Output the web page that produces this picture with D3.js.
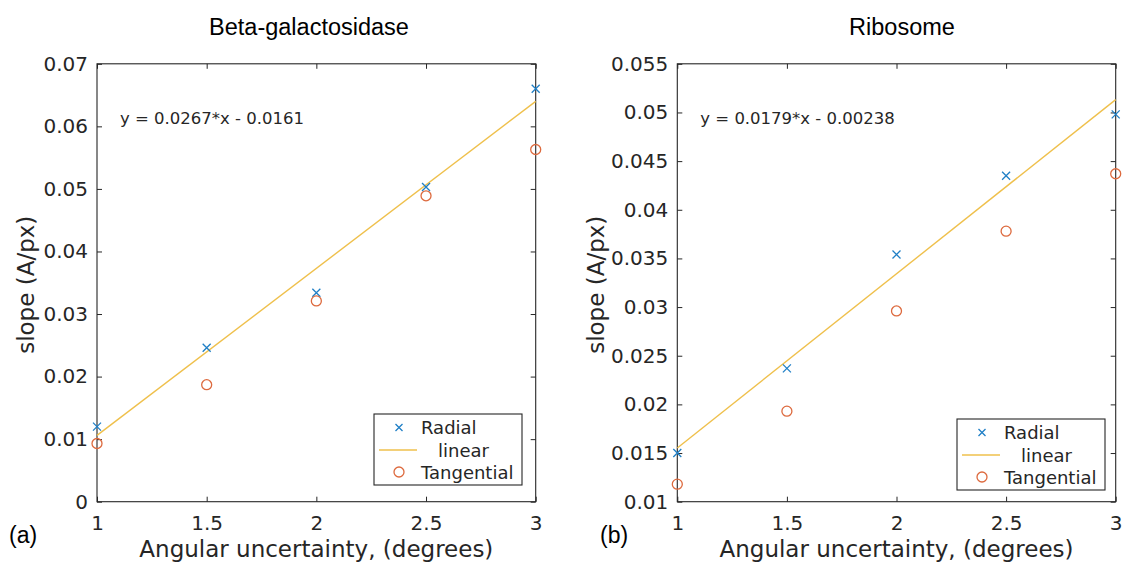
<!DOCTYPE html>
<html>
<head>
<meta charset="UTF-8">
<title>slope vs angular uncertainty</title>
<script src="https://d3js.org/d3.v7.min.js"></script>
<style>
    body { margin: 0; background: #fff; }
    svg { display: block; }
</style>
</head>
<body>
<svg id="chart"></svg>
<script>
    // values
    var xs = [1, 1.5, 2, 2.5, 3];
    var betaRadial = [0.0120, 0.0246, 0.0334, 0.0503, 0.0660];
    var betaTangential = [0.0093, 0.0187, 0.0321, 0.0489, 0.0563];
    var riboRadial = [0.0150, 0.0237, 0.0354, 0.0435, 0.0498];
    var riboTangential = [0.0118, 0.0193, 0.0296, 0.0378, 0.0437];
    var betaFit = [0.0267, -0.0161];
    var riboFit = [0.0179, -0.00238];

    var xTicks = [1, 1.5, 2, 2.5, 3];
    var betaYTicks = [0, 0.01, 0.02, 0.03, 0.04, 0.05, 0.06, 0.07];
    var riboYTicks = [0.01, 0.015, 0.02, 0.025, 0.03, 0.035, 0.04, 0.045, 0.05, 0.055];

    var titles = ["Beta-galactosidase", "Ribosome"];
    var panelTags = ["(a)", "(b)"];
    var seriesNames = ["Radial", "linear", "Tangential"];

    var W = 1123, H = 565;
    var colRadial = "#1f7fc6", colTang = "#dd6a3e", colFit = "#efc04c", ink = "#262626";

    var svg = d3.select("#chart").attr("width", W).attr("height", H);

    var panels = [
        {left: 97, right: 535.7, radial: betaRadial, tang: betaTangential, fit: betaFit,
            yDomain: [0, 0.07], yTicks: betaYTicks, title: titles[0], titleX: 309, tag: panelTags[0], tagX: 9,
            ylabX: 34, legX: 374, legY: 414, legTextDx: 47},
        {left: 677.3, right: 1115.7, radial: riboRadial, tang: riboTangential, fit: riboFit,
            yDomain: [0.01, 0.055], yTicks: riboYTicks, title: titles[1], titleX: 902, tag: panelTags[1], tagX: 600,
            ylabX: 604, legX: 957, legY: 419, legTextDx: 47}
    ];
    var plotTop = 63.8, plotBottom = 501.7;

    function fmt(v) {
        return String(+v.toFixed(4));
    }

    function cross(g, cx, cy, s) {
        g.append("path")
            .attr("d", "M" + (cx - s) + "," + (cy - s) + "L" + (cx + s) + "," + (cy + s) +
                "M" + (cx - s) + "," + (cy + s) + "L" + (cx + s) + "," + (cy - s))
            .attr("stroke", colRadial).attr("stroke-width", 1.3).attr("fill", "none");
    }

    function circle(g, cx, cy) {
        g.append("circle").attr("cx", cx).attr("cy", cy).attr("r", 5)
            .attr("fill", "none").attr("stroke", colTang).attr("stroke-width", 1.3);
    }

    panels.forEach(function (p) {
        var x = d3.scaleLinear().domain([1, 3]).range([p.left, p.right]);
        var y = d3.scaleLinear().domain(p.yDomain).range([plotBottom, plotTop]);
        var g = svg.append("g");

        // axes with inward ticks on all four sides
        var ax = [
            {a: d3.axisBottom(x).tickValues(xTicks).tickFormat(fmt).tickPadding(14.5), t: "translate(0," + plotBottom + ")"},
            {a: d3.axisTop(x).tickValues(xTicks).tickFormat(""), t: "translate(0," + plotTop + ")"},
            {a: d3.axisLeft(y).tickValues(p.yTicks).tickFormat(fmt).tickPadding(9), t: "translate(" + p.left + ",0)"},
            {a: d3.axisRight(y).tickValues(p.yTicks).tickFormat(""), t: "translate(" + p.right + ",0)"}
        ];
        ax.forEach(function (d) {
            var ag = g.append("g").attr("transform", d.t)
                .call(d.a.tickSize(-5).tickSizeOuter(0));
            ag.select(".domain").remove();
            ag.selectAll("line").attr("stroke", ink);
            ag.selectAll("text").attr("fill", ink)
                .style("font-family", "DejaVu Sans").style("font-size", "20px");
        });

        g.append("rect")
            .attr("x", p.left).attr("y", plotTop)
            .attr("width", p.right - p.left).attr("height", plotBottom - plotTop)
            .attr("fill", "none").attr("stroke", ink).attr("stroke-width", 1.1);

        // fitted line over the data range
        var fitLine = d3.line()
            .x(function (d) { return x(d); })
            .y(function (d) { return y(p.fit[0] * d + p.fit[1]); });
        g.append("path").datum([xs[0], xs[xs.length - 1]])
            .attr("d", fitLine).attr("fill", "none")
            .attr("stroke", colFit).attr("stroke-width", 1.4);

        xs.forEach(function (xv, i) {
            cross(g, x(xv), y(p.radial[i]), 4);
            circle(g, x(xv), y(p.tang[i]));
        });

        // fit equation
        var eq = "y = " + p.fit[0] + "*x - " + Math.abs(p.fit[1]);
        g.append("text").attr("x", p.left + 23).attr("y", plotTop + 60)
            .style("font-family", "DejaVu Sans").style("font-size", "16.5px")
            .attr("fill", ink).text(eq);

        // titles and labels
        g.append("text").attr("x", p.titleX).attr("y", 35).attr("text-anchor", "middle")
            .style("font-family", "Liberation Sans").style("font-size", "23.5px")
            .attr("fill", "#000").text(p.title);
        g.append("text").attr("x", p.tagX).attr("y", 543)
            .style("font-family", "Liberation Sans").style("font-size", "23px")
            .attr("fill", "#000").text(p.tag);
        g.append("text").attr("x", (p.left + p.right) / 2).attr("y", 557).attr("text-anchor", "middle")
            .style("font-family", "DejaVu Sans").style("font-size", "23px")
            .attr("fill", ink).text("Angular uncertainty, (degrees)");
        g.append("text").attr("transform", "translate(" + p.ylabX + "," + ((plotTop + plotBottom) / 2 + 2) + ") rotate(-90)")
            .attr("text-anchor", "middle")
            .style("font-family", "DejaVu Sans").style("font-size", "23px")
            .attr("fill", ink).text("slope (A/px)");

        // legend
        var lg = g.append("g").attr("transform", "translate(" + p.legX + "," + p.legY + ")");
        lg.append("rect").attr("width", 148).attr("height", 71)
            .attr("fill", "#fff").attr("stroke", ink).attr("stroke-width", 1.1);
        var rows = [13.5, 36, 58];
        cross(lg, 25, rows[0], 3.5);
        lg.append("line").attr("x1", 5).attr("x2", 43).attr("y1", rows[1]).attr("y2", rows[1])
            .attr("stroke", colFit).attr("stroke-width", 1.6);
        circle(lg, 25, rows[2]);
        seriesNames.forEach(function (name, i) {
            lg.append("text").attr("x", i === 1 ? p.legTextDx + 17 : p.legTextDx).attr("y", rows[i] + 6.5)
                .style("font-family", "DejaVu Sans").style("font-size", "18px")
                .attr("fill", ink).text(name);
        });
    });
</script>
</body>
</html>
